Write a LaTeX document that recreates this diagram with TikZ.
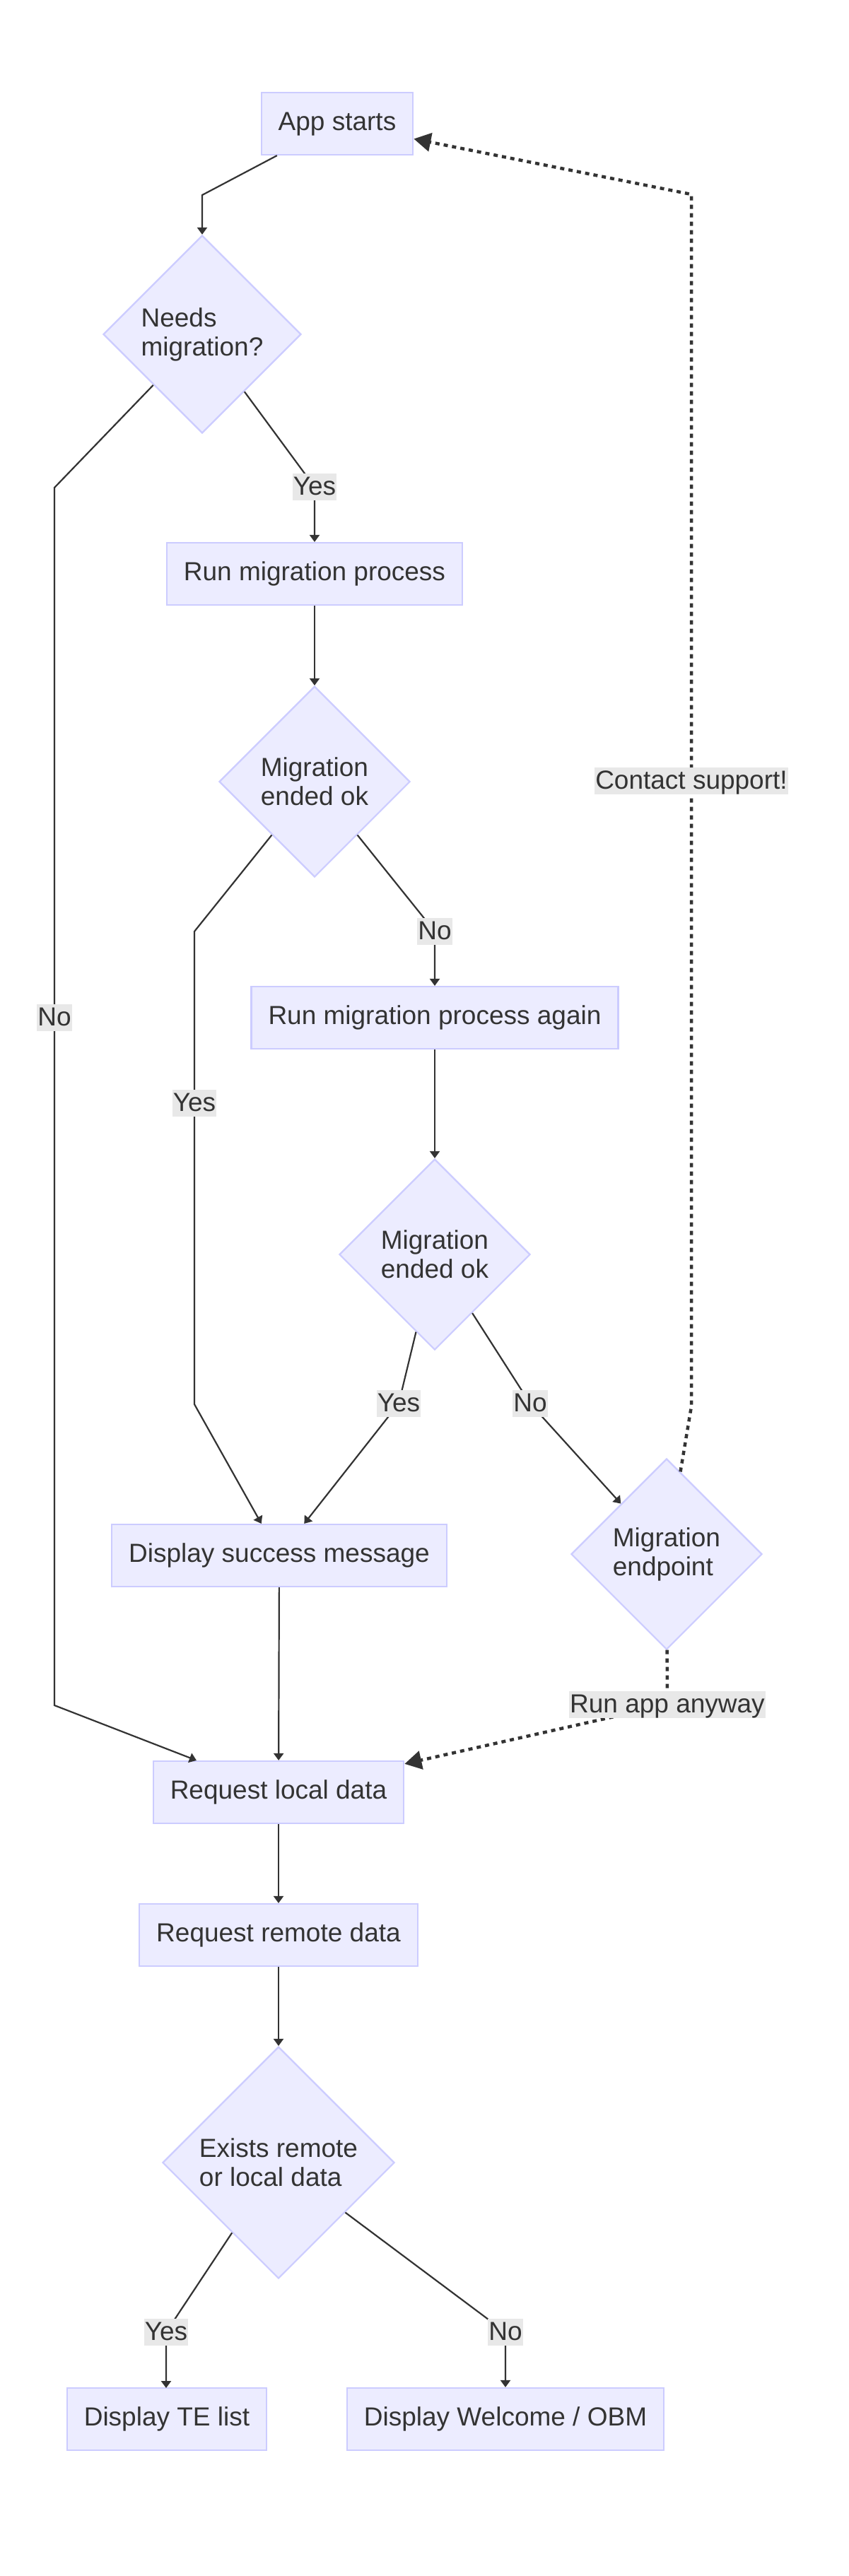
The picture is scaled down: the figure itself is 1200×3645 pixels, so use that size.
\documentclass[tikz,border=0pt]{standalone}
\usepackage{fontspec}
\setmainfont{Liberation Sans}
\usetikzlibrary{shapes.geometric,arrows.meta}
\definecolor{nodefill}{HTML}{ECECFF}
\definecolor{nodeline}{HTML}{CCCCFF}
\definecolor{edgecol}{HTML}{333333}
\definecolor{lblfill}{HTML}{E8E8E8}
\begin{document}
\begin{tikzpicture}[x=1pt,y=-1pt,
  font=\fontsize{37}{41}\selectfont,
  box/.style={rectangle, draw=nodeline, fill=nodefill, line width=2.2pt,
    minimum height=88pt, inner xsep=24pt, inner ysep=0pt, text=edgecol,
    text height=27pt, text depth=8pt},
  dec/.style={diamond, aspect=1, draw=nodeline, fill=nodefill, line width=2.2pt,
    inner sep=0pt, text=edgecol, align=left, minimum width=#1, minimum height=#1},
  lbl/.style={fill=lblfill, inner xsep=1pt, inner ysep=0pt, text=edgecol,
    text height=30pt, text depth=8pt},
  flow/.style={draw=edgecol, line width=2.2pt, -{Triangle[length=10pt,width=14pt]}},
  dots/.style={draw=edgecol, line width=4.5pt, dash pattern=on 6pt off 6pt,
    -{Triangle[length=24pt,width=26pt]}}
]
\fill[white] (0,0) rectangle (1200,3645);
\useasboundingbox (0,0) rectangle (1200,3645);

% nodes
\node[box] (app) at (477,175) {App starts};
\node[dec=280pt] (needs) at (286,473) {Needs\\migration?};
\node[box] (run) at (445,812) {Run migration process};
\node[dec=270pt] (mok1) at (445,1106) {Migration\\ended ok};
\node[box] (again) at (615,1440) {Run migration process again};
\node[dec=270pt] (mok2) at (615,1775) {Migration\\ended ok};
\node[box] (success) at (395,2201) {Display success message};
\node[dec=270pt] (endp) at (943,2199) {Migration\\endpoint};
\node[box] (reqlocal) at (394,2536) {Request local data};
\node[box] (reqremote) at (394,2738) {Request remote data};
\node[dec=328pt] (exists) at (394,3060) {Exists remote\\or local data};
\node[box] (telist) at (236,3423) {Display TE list};
\node[box] (welcome) at (715,3423) {Display Welcome / OBM};

% bend points
\coordinate (c1) at (286,276);

% edges
\draw[flow] (app) -- (c1) -- (needs);
\draw[flow] (needs) -- (445,689) node[lbl] {Yes} -- (run);
\draw[flow] (needs) -- (77,690) -- (77,1440) node[lbl] {No} -- (77,2413) -- (reqlocal);
\draw[flow] (run) -- (mok1);
\draw[flow] (mok1) -- (615,1318) node[lbl] {No} -- (again);
\draw[flow] (mok1) -- (275,1318) -- (275,1561) node[lbl] {Yes} -- (275,1987) -- (success);
\draw[flow] (again) -- (mok2);
\draw[flow] (mok2) -- (564,1986) node[lbl] {Yes} -- (success);
\draw[flow] (mok2) -- (750,1986) node[lbl] {No} -- (endp);
\draw[flow] (success) -- (reqlocal);
\draw[dots] (endp) -- (944,2412) node[lbl] {Run app anyway} -- (reqlocal);
\draw[dots] (endp) -- (978,1990) -- (978,1105) node[lbl] {Contact support!} -- (978,275) -- (app);
\draw[flow] (reqlocal) -- (reqremote);
\draw[flow] (reqremote) -- (exists);
\draw[flow] (exists) -- (235,3300) node[lbl] {Yes} -- (235,3379);
\draw[flow] (exists) -- (715,3300) node[lbl] {No} -- (welcome);
\end{tikzpicture}
\end{document}
